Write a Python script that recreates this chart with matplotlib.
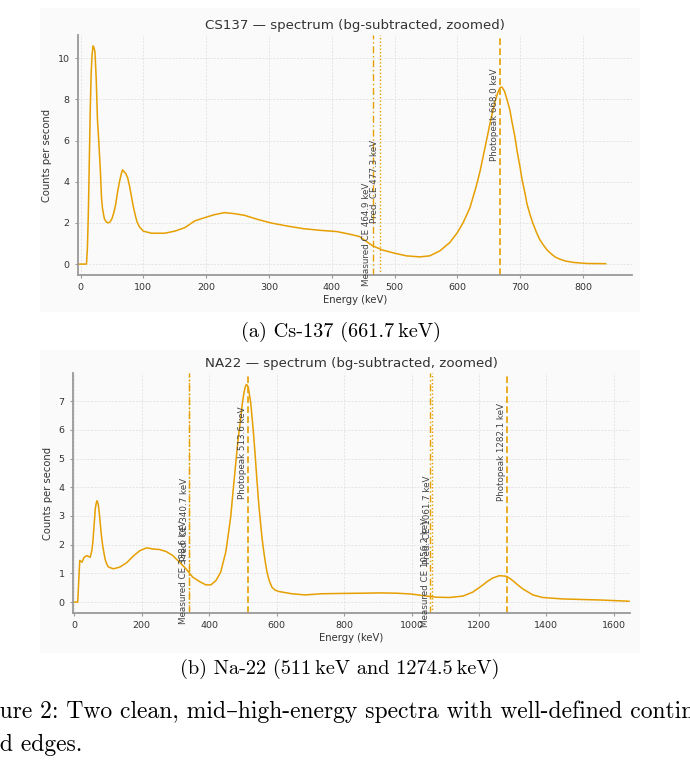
"""Two bg-subtracted gamma spectra (Cs-137, Na-22) laid out as a LaTeX figure page."""
import matplotlib
matplotlib.use("Agg")
import matplotlib.pyplot as plt
from matplotlib.patches import Rectangle
import matplotlib.transforms as mtransforms

ORANGE = "#E69F00"
PAGE_BG = "#fafafa"

# Cs-137 spectrum (keV, counts/s)
cs_energy = [-3, 9.5, 11, 12.5, 14, 15.5, 17, 18.5, 20, 21, 22, 23, 25, 27, 29, 31.5, 33.5,
             35, 38, 41, 44, 47, 50, 53, 56, 59, 62, 65, 67, 69, 72, 75, 78, 81, 84, 87,
             90, 94, 100, 113, 134, 150, 166, 182, 197, 213, 229, 245, 261, 282, 303, 329,
             355, 382, 408, 429, 444, 465, 481, 500, 519, 540, 556, 572, 588, 600, 609,
             620, 630, 636, 641, 647, 652, 656, 660, 664, 668, 671, 675, 679, 683.5, 687,
             691.5, 695, 699.5, 703, 707.5, 711, 715.5, 720, 726, 731, 737, 743, 750, 756,
             763, 772, 785, 806, 836]
cs_cps = [0.0, 0.0, 0.8, 2.5, 5.0, 7.5, 9.3, 10.2, 10.6, 10.55, 10.45, 10.3, 9.0, 7.0, 6.0,
          4.6, 3.2, 2.7, 2.2, 2.05, 2.0, 2.05, 2.2, 2.5, 2.9, 3.5, 4.0, 4.4, 4.58, 4.5,
          4.4, 4.2, 3.8, 3.3, 2.8, 2.4, 2.05, 1.8, 1.6, 1.5, 1.5, 1.6, 1.77, 2.1, 2.25,
          2.4, 2.5, 2.45, 2.37, 2.17, 2.0, 1.85, 1.72, 1.64, 1.58, 1.45, 1.34, 0.89, 0.68,
          0.53, 0.40, 0.35, 0.40, 0.64, 1.05, 1.53, 2.0, 2.74, 3.78, 4.5, 5.23, 6.1, 6.84,
          7.4, 7.9, 8.3, 8.58, 8.6, 8.4, 8.0, 7.49, 6.9, 6.2, 5.5, 4.75, 4.1, 3.46, 2.9,
          2.42, 2.0, 1.53, 1.2, 0.92, 0.68, 0.48, 0.34, 0.24, 0.15, 0.08, 0.03, 0.02]
cs_markers = [464.9, 477.3, 668.0]
cs_labels = ["Measured CE 464.9 keV", "Pred. CE 477.3 keV", "Photopeak 668.0 keV"]

# Na-22 spectrum
na_energy = [-2, 10, 16, 22.5, 29, 37, 47, 52, 55, 57, 60, 62, 65, 67, 69, 71.5, 74, 76.5,
             80, 84, 88, 91, 96, 101, 116, 135, 155, 174.5, 194, 214, 233, 253, 272.5,
             292, 312, 331, 351, 370.5, 390, 405, 420, 434, 449, 456, 464, 471, 478, 485,
             493, 498, 503, 507, 510, 513, 516, 519, 523, 527, 532, 537, 542, 547, 552,
             557, 562, 567, 571.5, 578, 586, 595, 606, 645, 684, 733, 782, 857, 906, 956,
             1000, 1044, 1074, 1113, 1153, 1182, 1212, 1225, 1241, 1261, 1281, 1290, 1300,
             1315, 1330, 1360, 1389, 1448, 1507, 1567, 1645]
na_cps = [0.0, 0.0, 1.45, 1.39, 1.56, 1.62, 1.56, 1.8, 2.1, 2.43, 2.9, 3.24, 3.45, 3.53,
          3.48, 3.36, 3.1, 2.78, 2.35, 1.97, 1.7, 1.5, 1.33, 1.22, 1.16, 1.22, 1.37, 1.6,
          1.79, 1.89, 1.85, 1.83, 1.76, 1.62, 1.39, 1.16, 0.87, 0.72, 0.6, 0.6, 0.75,
          1.04, 1.74, 2.3, 3.0, 3.9, 4.75, 5.6, 6.37, 6.9, 7.29, 7.5, 7.58, 7.55, 7.47,
          7.25, 6.94, 6.45, 5.79, 5.0, 4.17, 3.4, 2.78, 2.2, 1.74, 1.35, 1.04, 0.75, 0.52,
          0.42, 0.37, 0.29, 0.25, 0.29, 0.3, 0.31, 0.32, 0.31, 0.28, 0.21, 0.17, 0.16,
          0.21, 0.35, 0.6, 0.72, 0.84, 0.92, 0.9, 0.84, 0.75, 0.6, 0.46, 0.25, 0.16, 0.11,
          0.09, 0.07, 0.03]
na_markers = [338.6, 340.7, 513.6, 1056.2, 1061.7, 1282.1]
na_labels = ["Measured CE 338.6 keV", "Pred. CE 340.7 keV", "Photopeak 513.6 keV",
             "Measured CE 1056.2 keV", "Pred. CE 1061.7 keV", "Photopeak 1282.1 keV"]

STYLE = {"Measured": dict(ls=(0, (5, 2, 1, 2)), lw=1.0),
         "Pred.": dict(ls=(0, (1, 1.5)), lw=1.0),
         "Photopeak": dict(ls=(0, (4, 2)), lw=1.2)}
LABEL_Y = {"Measured": 0.17, "Pred.": 0.39, "Photopeak": 0.67}


def spectrum(ax, energy, cps, markers, labels, title, xlim, ylim, xticks, yticks):
    ax.set_facecolor(PAGE_BG)
    ax.plot(energy, cps, color=ORANGE, lw=1.1)
    trans = mtransforms.blended_transform_factory(ax.transData, ax.transAxes)
    for x, lab in zip(markers, labels):
        kind = lab.split()[0]
        ax.axvline(x, color=ORANGE, **STYLE[kind])
        ax.text(x - 2, LABEL_Y[kind], lab, transform=trans, rotation=90,
                ha="right", va="center", fontsize=6.3, color="#444444")
    ax.set_xlim(*xlim)
    ax.set_ylim(*ylim)
    ax.set_xticks(xticks)
    ax.set_yticks(yticks)
    ax.set_title(title, fontsize=9.6, color="#333333", pad=4)
    ax.set_xlabel("Energy (keV)", fontsize=7.2, color="#333333", labelpad=2)
    ax.set_ylabel("Counts per second", fontsize=7.2, color="#333333", labelpad=4)
    ax.grid(True, ls=(0, (3, 2)), lw=0.5, color="#dddddd")
    ax.set_axisbelow(True)
    for s in ("top", "right"):
        ax.spines[s].set_visible(False)
    for s in ("left", "bottom"):
        ax.spines[s].set_color("#999999")
        ax.spines[s].set_linewidth(1.3)
    ax.tick_params(labelsize=6.8, colors="#999999", labelcolor="#333333",
                   length=2.5, width=0.8)


fig = plt.figure(figsize=(6.9, 7.8), dpi=100, facecolor="white")
W, H = 690, 780


def box(x0, y0, x1, y1):
    # pixel box (top-left origin) -> figure fraction [l, b, w, h]
    return [x0 / W, 1 - y1 / H, (x1 - x0) / W, (y1 - y0) / H]


# light backgrounds of the two embedded images
for x0, y0, x1, y1 in [(40, 8, 640, 312), (40, 350, 640, 653)]:
    l, b, w, h = box(x0, y0, x1, y1)
    fig.patches.append(Rectangle((l, b), w, h, transform=fig.transFigure,
                                 facecolor=PAGE_BG, edgecolor="none", zorder=-10))

ax1 = fig.add_axes(box(78, 35, 632, 275))
spectrum(ax1, cs_energy, cs_cps, cs_markers, cs_labels,
         "CS137 — spectrum (bg-subtracted, zoomed)", (-4, 878), (-0.53, 11.13),
         range(0, 900, 100), range(0, 11, 2))

ax2 = fig.add_axes(box(73, 373, 630, 613))
spectrum(ax2, na_energy, na_cps, na_markers, na_labels,
         "NA22 — spectrum (bg-subtracted, zoomed)", (-4, 1648), (-0.38, 7.98),
         range(0, 1700, 200), range(0, 8, 1))
for ax in (ax1, ax2):
    ax.set_zorder(5)

serif = ["cmr10", "DejaVu Serif"]
fig.text(341 / W, 1 - 332 / H, "(a) Cs-137 (661.7\u2009keV)", family=serif,
         fontsize=14.6, ha="center", va="center")
fig.text(340 / W, 1 - 669 / H, "(b) Na-22 (511\u2009keV and 1274.5\u2009keV)",
         family=serif, fontsize=14.6, ha="center", va="center")

# figure caption, cut by the page crop on the left
renderer = fig.canvas.get_renderer()
for prefix, rest, yc in [("Fig", "ure 2: Two clean, mid–high-energy spectra with well-defined continua", 712),
                         ("an", "d edges.", 745)]:
    probe = fig.text(0, 0, prefix, family=serif, fontsize=17.0)
    wpx = probe.get_window_extent(renderer).width
    probe.remove()
    fig.text(-wpx / W, 1 - yc / H, prefix + rest, family=serif, fontsize=17.0,
             ha="left", va="center")

fig.savefig("out.png", dpi=100, facecolor="white")
